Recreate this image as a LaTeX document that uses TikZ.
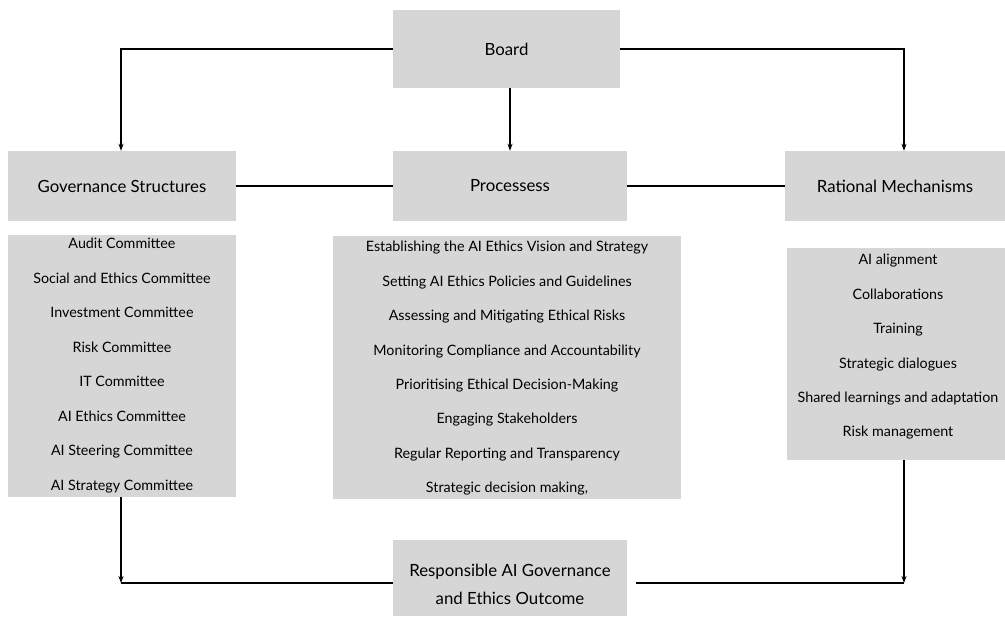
\documentclass[tikz,border=0pt]{standalone}
\usepackage{fontspec}
\setmainfont{Lato}
\usetikzlibrary{arrows.meta}
\definecolor{boxgray}{RGB}{214,214,214}
\begin{document}
\begin{tikzpicture}[x=1pt,y=-1pt,
  box/.style={fill=boxgray, draw=none, inner sep=0pt, align=center,
              font=\fontsize{16.8}{28}\selectfont},
  txt/.style={inner sep=0pt, align=center, font=\fontsize{16.8}{28}\selectfont},
  item/.style={inner sep=0pt, anchor=base, font=\fontsize{14.3}{16}\selectfont},
  conn/.style={line width=1.1pt},
  arr/.style={conn, -{Stealth[length=7pt,width=5pt]}}]
\useasboundingbox (0,0) rectangle (1005,617);

% top level
\node[box, minimum width=227pt, minimum height=78pt] (board) at (506.5,49) {Board};

% second level headings
\node[box, minimum width=228pt, minimum height=70pt] (gov)  at (122,186) {Governance Structures};
\node[box, minimum width=234pt, minimum height=70pt] (proc) at (510,186) {Processess};
\node[box, minimum width=220pt, minimum height=70pt] (rat)  at (895,186) {Rational Mechanisms};

% list panels
\node[box, minimum width=228pt, minimum height=262pt] (govlist)  at (122,366) {};
\node[box, minimum width=348pt, minimum height=263pt] (proclist) at (507,367.5) {};
\node[box, minimum width=218pt, minimum height=212pt] (ratlist)  at (896,354) {};

% outcome
\node[box, minimum width=234pt, minimum height=76pt] (out) at (510,578) {};
\node[txt] (outtext) at (510,584) {Responsible AI Governance\\and Ethics Outcome};

% governance structures items
\foreach \t [count=\i from 0] in {Audit Committee, Social and Ethics Committee,
  Investment Committee, Risk Committee, IT Committee, AI Ethics Committee,
  AI Steering Committee, AI Strategy Committee}
  \node[item] (g\i) at (122, 249+34.5*\i) {\t};

% process items
\foreach \t [count=\i from 0] in {Establishing the AI Ethics Vision and Strategy,
  Setting AI Ethics Policies and Guidelines, Assessing and Mitigating Ethical Risks,
  Monitoring Compliance and Accountability, Prioritising Ethical Decision-Making,
  Engaging Stakeholders, Regular Reporting and Transparency}
  \node[item] (p\i) at (507, 252+34.4*\i) {\t};
\node[item] (p7) at (507, 252+34.4*7) {Strategic decision making,};

% relational mechanism items
\foreach \t [count=\i from 0] in {AI alignment, Collaborations, Training,
  Strategic dialogues, Shared learnings and adaptation, Risk management}
  \node[item] (r\i) at (898, 265+34.4*\i) {\t};

% connector corners
\coordinate (bl) at (121,49);
\coordinate (br) at (904,49);
\coordinate (ol) at (121,583);
\coordinate (or) at (904,583);
\coordinate (outr) at (636,583);

% board to the three pillars
\draw[arr] (board.west |- bl) -- (bl) -- (bl |- gov.north);
\draw[arr] (board.east |- br) -- (br) -- (br |- rat.north);
\draw[arr] (board.south -| proc.north) -- (proc.north);

% links between pillars
\draw[conn] (gov.east) -- (proc.west);
\draw[conn] (proc.east) -- (rat.west);

% panels down to the outcome
\draw[arr] (govlist.south -| ol) -- (ol);
\draw[conn] (ol) -- (out.west |- ol);
\draw[arr] (ratlist.south -| or) -- (or);
\draw[conn] (outr) -- (or);
\end{tikzpicture}
\end{document}
